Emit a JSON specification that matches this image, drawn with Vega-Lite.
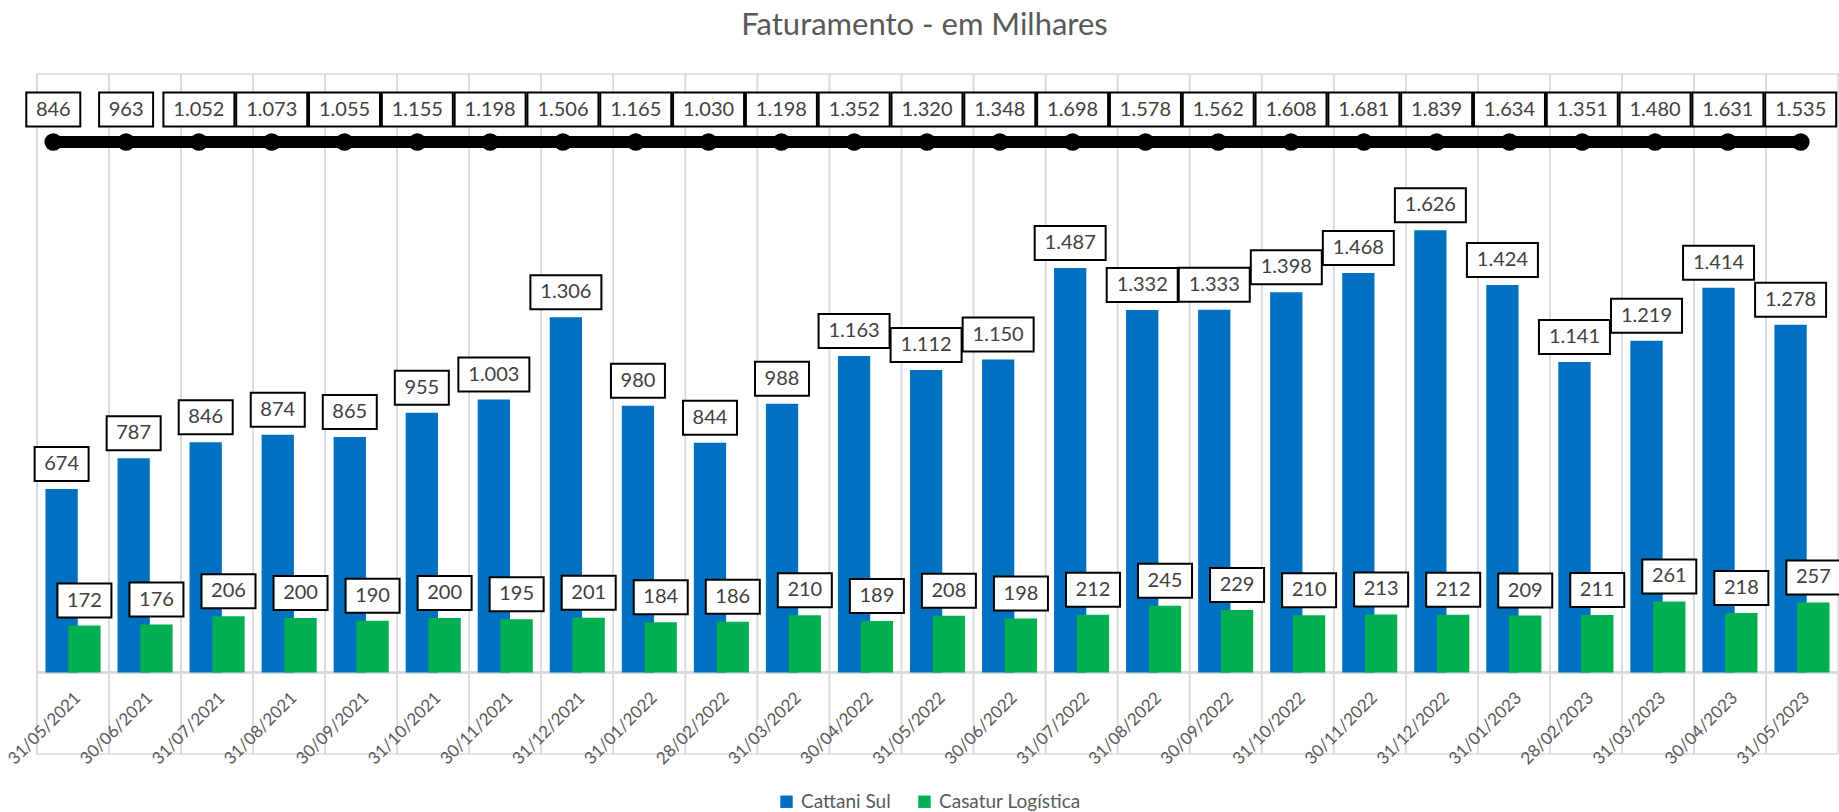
{
  "$schema": "https://vega.github.io/schema/vega-lite/v6.json",
  "autosize": {"type": "none"},
  "width": 1801,
  "height": 680,
  "padding": {"left": 37, "top": 74, "right": 1, "bottom": 58},
  "background": "white",
  "title": {"text": "Faturamento - em Milhares", "font": "Lato", "fontSize": 31, "fontWeight": "normal", "color": "#595959", "anchor": "middle", "frame": "group", "baseline": "alphabetic", "offset": 7, "dx": -13},
  "config": {
    "font": "Lato",
    "locale": {"number": {"decimal": ",", "thousands": ".", "grouping": [3], "currency": ["R$", ""]}},
    "view": {"stroke": "#d9d9d9", "strokeWidth": 1.5}
  },
  "datasets": {
    "barras": [
      {"data": "31/05/2021", "serie": "Cattani Sul", "valor": 674},
      {"data": "30/06/2021", "serie": "Cattani Sul", "valor": 787},
      {"data": "31/07/2021", "serie": "Cattani Sul", "valor": 846},
      {"data": "31/08/2021", "serie": "Cattani Sul", "valor": 874},
      {"data": "30/09/2021", "serie": "Cattani Sul", "valor": 865},
      {"data": "31/10/2021", "serie": "Cattani Sul", "valor": 955},
      {"data": "30/11/2021", "serie": "Cattani Sul", "valor": 1003},
      {"data": "31/12/2021", "serie": "Cattani Sul", "valor": 1306},
      {"data": "31/01/2022", "serie": "Cattani Sul", "valor": 980},
      {"data": "28/02/2022", "serie": "Cattani Sul", "valor": 844},
      {"data": "31/03/2022", "serie": "Cattani Sul", "valor": 988},
      {"data": "30/04/2022", "serie": "Cattani Sul", "valor": 1163},
      {"data": "31/05/2022", "serie": "Cattani Sul", "valor": 1112},
      {"data": "30/06/2022", "serie": "Cattani Sul", "valor": 1150},
      {"data": "31/07/2022", "serie": "Cattani Sul", "valor": 1487},
      {"data": "31/08/2022", "serie": "Cattani Sul", "valor": 1332},
      {"data": "30/09/2022", "serie": "Cattani Sul", "valor": 1333},
      {"data": "31/10/2022", "serie": "Cattani Sul", "valor": 1398},
      {"data": "30/11/2022", "serie": "Cattani Sul", "valor": 1468},
      {"data": "31/12/2022", "serie": "Cattani Sul", "valor": 1626},
      {"data": "31/01/2023", "serie": "Cattani Sul", "valor": 1424},
      {"data": "28/02/2023", "serie": "Cattani Sul", "valor": 1141},
      {"data": "31/03/2023", "serie": "Cattani Sul", "valor": 1219},
      {"data": "30/04/2023", "serie": "Cattani Sul", "valor": 1414},
      {"data": "31/05/2023", "serie": "Cattani Sul", "valor": 1278},
      {"data": "31/05/2021", "serie": "Casatur Logística", "valor": 172},
      {"data": "30/06/2021", "serie": "Casatur Logística", "valor": 176},
      {"data": "31/07/2021", "serie": "Casatur Logística", "valor": 206},
      {"data": "31/08/2021", "serie": "Casatur Logística", "valor": 200},
      {"data": "30/09/2021", "serie": "Casatur Logística", "valor": 190},
      {"data": "31/10/2021", "serie": "Casatur Logística", "valor": 200},
      {"data": "30/11/2021", "serie": "Casatur Logística", "valor": 195},
      {"data": "31/12/2021", "serie": "Casatur Logística", "valor": 201},
      {"data": "31/01/2022", "serie": "Casatur Logística", "valor": 184},
      {"data": "28/02/2022", "serie": "Casatur Logística", "valor": 186},
      {"data": "31/03/2022", "serie": "Casatur Logística", "valor": 210},
      {"data": "30/04/2022", "serie": "Casatur Logística", "valor": 189},
      {"data": "31/05/2022", "serie": "Casatur Logística", "valor": 208},
      {"data": "30/06/2022", "serie": "Casatur Logística", "valor": 198},
      {"data": "31/07/2022", "serie": "Casatur Logística", "valor": 212},
      {"data": "31/08/2022", "serie": "Casatur Logística", "valor": 245},
      {"data": "30/09/2022", "serie": "Casatur Logística", "valor": 229},
      {"data": "31/10/2022", "serie": "Casatur Logística", "valor": 210},
      {"data": "30/11/2022", "serie": "Casatur Logística", "valor": 213},
      {"data": "31/12/2022", "serie": "Casatur Logística", "valor": 212},
      {"data": "31/01/2023", "serie": "Casatur Logística", "valor": 209},
      {"data": "28/02/2023", "serie": "Casatur Logística", "valor": 211},
      {"data": "31/03/2023", "serie": "Casatur Logística", "valor": 261},
      {"data": "30/04/2023", "serie": "Casatur Logística", "valor": 218},
      {"data": "31/05/2023", "serie": "Casatur Logística", "valor": 257}
    ],
    "totais": [
      {"data": "31/05/2021", "total": 846},
      {"data": "30/06/2021", "total": 963},
      {"data": "31/07/2021", "total": 1052},
      {"data": "31/08/2021", "total": 1073},
      {"data": "30/09/2021", "total": 1055},
      {"data": "31/10/2021", "total": 1155},
      {"data": "30/11/2021", "total": 1198},
      {"data": "31/12/2021", "total": 1506},
      {"data": "31/01/2022", "total": 1165},
      {"data": "28/02/2022", "total": 1030},
      {"data": "31/03/2022", "total": 1198},
      {"data": "30/04/2022", "total": 1352},
      {"data": "31/05/2022", "total": 1320},
      {"data": "30/06/2022", "total": 1348},
      {"data": "31/07/2022", "total": 1698},
      {"data": "31/08/2022", "total": 1578},
      {"data": "30/09/2022", "total": 1562},
      {"data": "31/10/2022", "total": 1608},
      {"data": "30/11/2022", "total": 1681},
      {"data": "31/12/2022", "total": 1839},
      {"data": "31/01/2023", "total": 1634},
      {"data": "28/02/2023", "total": 1351},
      {"data": "31/03/2023", "total": 1480},
      {"data": "30/04/2023", "total": 1631},
      {"data": "31/05/2023", "total": 1535}
    ]
  },
  "resolve": {"scale": {"x": "independent"}},
  "layer": [
    {
      "data": {"name": "barras"},
      "layer": [
        {
          "mark": {"type": "rule", "color": "#d9d9d9", "strokeWidth": 1.5},
          "encoding": {
            "x": {"field": "data", "type": "ordinal", "sort": null, "bandPosition": 0,
              "scale": {"type": "band", "paddingInner": 0, "paddingOuter": 0}, "axis": null}
          }
        },
        {
          "mark": {"type": "rule", "color": "#d9d9d9", "strokeWidth": 1.5},
          "encoding": {
            "y": {"datum": 0, "type": "quantitative", "scale": {"domain": [-300, 2200], "nice": false, "zero": false}, "axis": null}
          }
        },
        {
          "transform": [{"filter": "datum.serie === 'Cattani Sul'"}],
          "encoding": {
            "x": {"field": "data", "type": "ordinal", "sort": null, "scale": {"type": "band", "paddingInner": 0, "paddingOuter": 0}, "axis": null},
            "y": {"field": "valor", "type": "quantitative", "scale": {"domain": [-300, 2200], "nice": false, "zero": false},
              "axis": {"values": [-300, 200, 700, 1200, 1700, 2200], "grid": true, "gridColor": "#d9d9d9", "gridWidth": 1.5,
                "labels": false, "ticks": false, "domain": false, "title": null}}
          },
          "layer": [
            {
              "mark": {"type": "bar", "width": 32.3, "xOffset": -11.4},
              "encoding": {
                "color": {"field": "serie", "type": "nominal",
                  "scale": {"domain": ["Cattani Sul", "Casatur Logística"], "range": ["#0070C0", "#00B050"]},
                  "legend": {"orient": "none", "legendX": 740, "legendY": 718, "direction": "horizontal", "title": null,
                    "symbolType": "square", "symbolSize": 154, "symbolStrokeWidth": 0, "symbolOpacity": 1,
                    "labelFontSize": 19, "labelFont": "Lato", "labelColor": "#595959", "labelOffset": 5,
                    "columnPadding": 24, "padding": 0}}
              }
            },
            {
              "mark": {"type": "point", "filled": true, "fill": "white", "stroke": "black", "strokeWidth": 2, "size": 4, "opacity": 1, "xOffset": -11.4, "yOffset": -25},
              "encoding": {
                "shape": {"condition": {"test": "datum.valor >= 1000", "value": "M-35.5,-17H35.5V17H-35.5Z"}, "value": "M-27,-17H27V17H-27Z"}
              }
            },
            {
              "mark": {"type": "text", "font": "Lato", "fontSize": 20, "color": "#404040", "baseline": "middle", "xOffset": -11.4, "yOffset": -25},
              "encoding": {"text": {"field": "valor", "type": "quantitative", "format": ",.0f"}}
            },
            {
              "mark": {"type": "text", "font": "Lato", "fontSize": 17, "color": "#595959", "align": "right", "baseline": "middle", "angle": -45, "xOffset": 5, "yOffset": 23},
              "encoding": {
                "y": {"datum": 0, "type": "quantitative", "scale": {"domain": [-300, 2200], "nice": false, "zero": false}, "axis": null},
                "text": {"field": "data", "type": "nominal"}
              }
            }
          ]
        },
        {
          "transform": [{"filter": "datum.serie === 'Casatur Logística'"}],
          "encoding": {
            "x": {"field": "data", "type": "ordinal", "sort": null, "scale": {"type": "band", "paddingInner": 0, "paddingOuter": 0}, "axis": null},
            "y": {"field": "valor", "type": "quantitative", "scale": {"domain": [-300, 2200], "nice": false, "zero": false}, "axis": null}
          },
          "layer": [
            {
              "mark": {"type": "bar", "width": 32.3, "xOffset": 11.4},
              "encoding": {
                "color": {"field": "serie", "type": "nominal",
                  "scale": {"domain": ["Cattani Sul", "Casatur Logística"], "range": ["#0070C0", "#00B050"]}}
              }
            },
            {
              "mark": {"type": "point", "filled": true, "fill": "white", "stroke": "black", "strokeWidth": 2, "size": 4, "opacity": 1, "xOffset": 11.4, "yOffset": -25},
              "encoding": {
                "shape": {"condition": {"test": "datum.valor >= 1000", "value": "M-35.5,-17H35.5V17H-35.5Z"}, "value": "M-27,-17H27V17H-27Z"}
              }
            },
            {
              "mark": {"type": "text", "font": "Lato", "fontSize": 20, "color": "#404040", "baseline": "middle", "xOffset": 11.4, "yOffset": -25},
              "encoding": {"text": {"field": "valor", "type": "quantitative", "format": ",.0f"}}
            }
          ]
        }
      ]
    },
    {
      "data": {"name": "totais"},
      "encoding": {
        "x": {"field": "data", "type": "ordinal", "sort": null, "scale": {"type": "point", "padding": 0.368, "align": 0.304}, "axis": null},
        "y": {"datum": 1950, "type": "quantitative", "scale": {"domain": [-300, 2200], "nice": false, "zero": false}, "axis": null}
      },
      "layer": [
        {"mark": {"type": "line", "color": "black", "strokeWidth": 12, "strokeCap": "round"}, "encoding": {}},
        {"mark": {"type": "point", "filled": true, "color": "black", "size": 314, "opacity": 1}, "encoding": {}},
        {
          "mark": {"type": "point", "filled": true, "fill": "white", "stroke": "black", "strokeWidth": 2, "size": 4, "opacity": 1, "yOffset": -32.4},
          "encoding": {
            "shape": {"condition": {"test": "datum.total >= 1000", "value": "M-35.5,-17H35.5V17H-35.5Z"}, "value": "M-27,-17H27V17H-27Z"}
          }
        },
        {
          "mark": {"type": "text", "font": "Lato", "fontSize": 20, "color": "#404040", "baseline": "middle", "yOffset": -32.4},
          "encoding": {"text": {"field": "total", "type": "quantitative", "format": ",.0f"}}
        }
      ]
    }
  ]
}
